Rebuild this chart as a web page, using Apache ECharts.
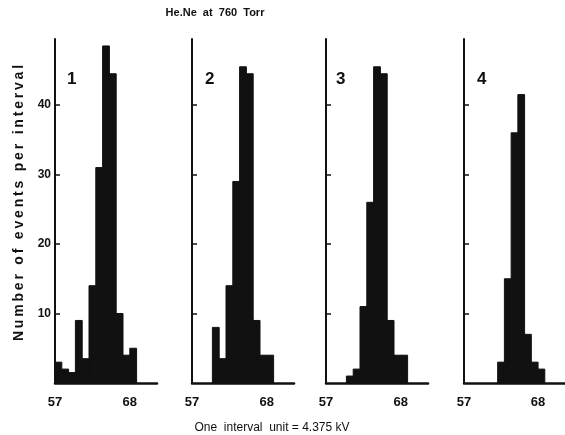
<!DOCTYPE html>
<html lang="en">
<head>
    <meta charset="utf-8" />
    <title>He.Ne at 760 Torr</title>
    <script src="https://cdn.jsdelivr.net/npm/echarts@6/dist/echarts.min.js"></script>
</head>
<body style="margin:0;background:#fff;">
    <div id="main" style="width:565px;height:435px;"></div>
    <script type="text/javascript">
        // interval numbers (left edge of each bin)
        var bins = [57, 58, 59, 60, 61, 62, 63, 64, 65, 66, 67, 68];
        // events per interval, one array per run
        var run1 = [3, 2, 1.5, 9, 3.5, 14, 31, 48.5, 44.5, 10, 4, 5];
        var run2 = [0, 0, 0, 8, 3.5, 14, 29, 45.5, 44.5, 9, 4, 4];
        var run3 = [0, 0, 0, 1, 2, 11, 26, 45.5, 44.5, 9, 4, 4];
        var run4 = [0, 0, 0, 0, 0, 3, 15, 36, 41.5, 7, 3, 2];
        var panelNames = ['1', '2', '3', '4'];
        var xTickLabels = [57, 68];
        var yTickLabels = [10, 20, 30, 40];

        var runs = [run1, run2, run3, run4];
        var panelLeft = [55, 192, 326, 464];
        var ink = '#111';
        var font = 'Liberation Sans, Arial, sans-serif';

        var myChart = echarts.init(document.getElementById('main'));

        function renderBin(params, api) {
            var x = api.value(0);
            var y = api.value(1);
            if (!y) return null;
            var top = api.coord([x, y]);
            var bottom = api.coord([x + 1, 0]);
            return {
                type: 'rect',
                shape: { x: top[0], y: top[1], width: bottom[0] - top[0], height: bottom[1] - top[1] },
                style: { fill: ink, stroke: ink, lineWidth: 1 }
            };
        }

        // spread the letters of the y title like the original lettering
        function spaced(s) {
            return s.split('').join('\u2009');
        }

        var grid = [], xAxis = [], yAxis = [], series = [], graphic = [];
        for (var i = 0; i < runs.length; i++) {
            grid.push({ left: panelLeft[i], width: 102, top: 39, height: 344 });
            xAxis.push({
                type: 'value', gridIndex: i, min: 57, max: 72,
                axisLine: { lineStyle: { color: ink, width: 2.5 } },
                axisTick: { show: false },
                splitLine: { show: false },
                axisLabel: {
                    customValues: xTickLabels, margin: 13,
                    color: ink, fontSize: 13, fontWeight: 'bold', fontFamily: font
                }
            });
            yAxis.push({
                type: 'value', gridIndex: i, min: 0, max: 49.5,
                axisLine: { show: true, lineStyle: { color: ink, width: 2 } },
                axisTick: { show: true, inside: true, length: 5, customValues: yTickLabels, lineStyle: { color: ink, width: 1.5 } },
                splitLine: { show: false },
                axisLabel: {
                    show: i === 0, customValues: yTickLabels, margin: 4,
                    color: ink, fontSize: 12, fontWeight: 'bold', fontFamily: font
                }
            });
            series.push({
                type: 'custom', xAxisIndex: i, yAxisIndex: i,
                renderItem: renderBin,
                data: bins.map(function (b, k) { return [b, runs[i][k]]; }),
                silent: true
            });
            graphic.push({
                type: 'text', left: panelLeft[i] + [12, 13, 10, 13][i], top: 71,
                style: { text: panelNames[i], fill: ink, font: 'bold 17px ' + font }
            });
        }

        graphic.push({
            type: 'text', x: 215, y: 13,
            style: { text: 'He.Ne  at  760  Torr', fill: ink, font: 'bold 11px ' + font, align: 'center', verticalAlign: 'middle' }
        });
        graphic.push({
            type: 'text', x: 272, y: 428,
            style: { text: 'One  interval  unit = 4.375 kV', fill: ink, font: '12px ' + font, align: 'center', verticalAlign: 'middle' }
        });
        graphic.push({
            type: 'text', x: 19, y: 203, rotation: Math.PI / 2,
            style: { text: spaced('Number of events per interval'), fill: ink, font: 'bold 14px ' + font, align: 'center', verticalAlign: 'middle' }
        });

        var option = {
            animation: false,
            backgroundColor: '#fff',
            grid: grid,
            xAxis: xAxis,
            yAxis: yAxis,
            series: series,
            graphic: graphic
        };
        myChart.setOption(option);
    </script>
</body>
</html>
